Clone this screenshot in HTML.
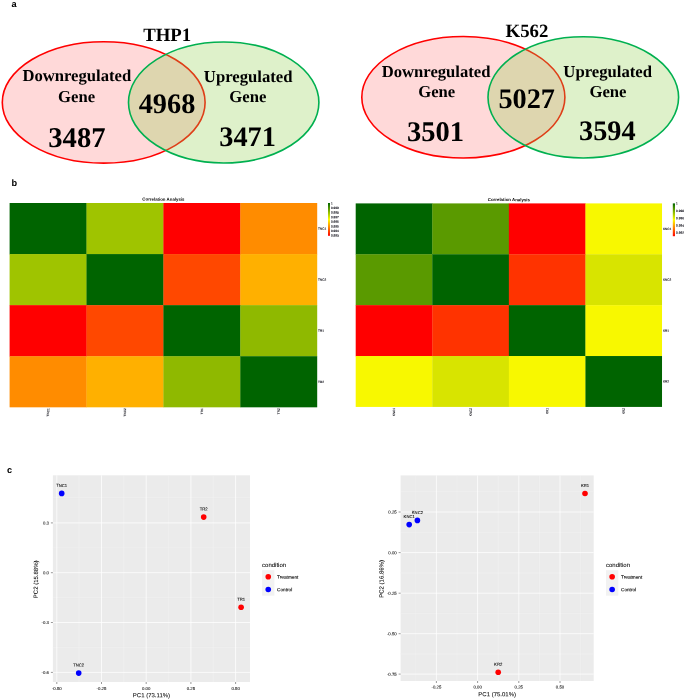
<!DOCTYPE html>
<html><head><meta charset="utf-8"><title>Figure</title>
<style>html,body{margin:0;padding:0;background:#fff;}body{width:685px;height:700px;overflow:hidden;}svg{display:block;will-change:transform;}
text{font-family:"Liberation Sans",sans-serif;fill:#000;text-rendering:geometricPrecision;}
.sf{font-family:"Liberation Serif",serif;font-weight:bold;}
.pl{font-weight:bold;font-size:9.2px;}
.t3{font-size:31px;fill:#222;}
.tk{font-size:4.3px;fill:#4d4d4d;}
.lb{font-size:4.2px;fill:#000;}
.ax{font-size:6px;fill:#000;}
.lg{font-size:4.5px;fill:#000;}
</style></head><body>
<svg width="685" height="700" viewBox="0 0 685 700">
<rect width="685" height="700" fill="#fff"/>
<text class="pl" x="11.5" y="6.5">a</text>
<text class="pl" x="11.6" y="185.6">b</text>
<text class="pl" x="7.0" y="472.6">c</text>
<ellipse cx="103.7" cy="102.4" rx="101.4" ry="60.7" fill="rgba(255,0,0,0.15)" stroke="#ff0000" stroke-width="1.6"/>
<ellipse cx="223.7" cy="102.47" rx="95.2" ry="60.5" fill="rgba(146,208,80,0.30)" stroke="#00b050" stroke-width="1.6"/>
<text class="sf" font-size="18.8" text-anchor="middle" x="167.2" y="41">THP1</text>
<text class="sf" font-size="16.65" text-anchor="middle" x="76.8" y="81.1">Downregulated</text>
<text class="sf" font-size="16.65" text-anchor="middle" x="76.6" y="101.9">Gene</text>
<text class="sf" font-size="28.6" text-anchor="middle" x="76.9" y="146.9">3487</text>
<text class="sf" font-size="28.3" text-anchor="middle" x="167" y="112.7">4968</text>
<text class="sf" font-size="16.7" text-anchor="middle" x="248.2" y="82">Upregulated</text>
<text class="sf" font-size="16.7" text-anchor="middle" x="247.9" y="101.7">Gene</text>
<text class="sf" font-size="28.3" text-anchor="middle" x="247.6" y="145.7">3471</text>
<ellipse cx="463.35" cy="97.27" rx="101.55" ry="60.7" fill="rgba(255,0,0,0.15)" stroke="#ff0000" stroke-width="1.6"/>
<ellipse cx="583.3" cy="97.37" rx="95.3" ry="60.6" fill="rgba(146,208,80,0.30)" stroke="#00b050" stroke-width="1.6"/>
<text class="sf" font-size="18.8" text-anchor="middle" x="527" y="36.5">K562</text>
<text class="sf" font-size="16.65" text-anchor="middle" x="436.1" y="76.8">Downregulated</text>
<text class="sf" font-size="16.65" text-anchor="middle" x="436.7" y="97.2">Gene</text>
<text class="sf" font-size="28.5" text-anchor="middle" x="435.6" y="141.3">3501</text>
<text class="sf" font-size="28.3" text-anchor="middle" x="526.7" y="108.3">5027</text>
<text class="sf" font-size="16.7" text-anchor="middle" x="607.7" y="76.9">Upregulated</text>
<text class="sf" font-size="16.7" text-anchor="middle" x="608" y="97.2">Gene</text>
<text class="sf" font-size="28.3" text-anchor="middle" x="607.3" y="140.1">3594</text>
<defs><linearGradient id="lg" x1="0" y1="0" x2="0" y2="1"><stop offset="0" stop-color="#006400"/><stop offset="0.5" stop-color="#ffff00"/><stop offset="1" stop-color="#ff0000"/></linearGradient></defs>
<rect x="9.6" y="203" width="77.2" height="51.38" fill="#006400"/>
<rect x="86.5" y="203" width="77.2" height="51.38" fill="#9fc400"/>
<rect x="163.4" y="203" width="77.2" height="51.38" fill="#ff0000"/>
<rect x="240.3" y="203" width="76.9" height="51.38" fill="#ff8c00"/>
<rect x="9.6" y="254.08" width="77.2" height="51.38" fill="#9fc400"/>
<rect x="86.5" y="254.08" width="77.2" height="51.38" fill="#006400"/>
<rect x="163.4" y="254.08" width="77.2" height="51.38" fill="#ff4800"/>
<rect x="240.3" y="254.08" width="76.9" height="51.38" fill="#ffb000"/>
<rect x="9.6" y="305.16" width="77.2" height="51.38" fill="#ff0000"/>
<rect x="86.5" y="305.16" width="77.2" height="51.38" fill="#ff4800"/>
<rect x="163.4" y="305.16" width="77.2" height="51.38" fill="#006400"/>
<rect x="240.3" y="305.16" width="76.9" height="51.38" fill="#8fb900"/>
<rect x="9.6" y="356.24" width="77.2" height="51.08" fill="#ff8c00"/>
<rect x="86.5" y="356.24" width="77.2" height="51.08" fill="#ffb000"/>
<rect x="163.4" y="356.24" width="77.2" height="51.08" fill="#8fb900"/>
<rect x="240.3" y="356.24" width="76.9" height="51.08" fill="#006400"/>
<text transform="translate(163.4 200.7) rotate(0.3) scale(0.1)" text-anchor="middle" font-size="43.5" font-weight="bold" fill="#111">Correlation Analysis</text>
<text transform="translate(318.1 229.64) rotate(0.3) scale(0.1)" font-size="31" fill="#223" stroke="#223" stroke-width="1.2">TNC1</text>
<text transform="translate(318.1 280.72) rotate(0.3) scale(0.1)" font-size="31" fill="#223" stroke="#223" stroke-width="1.2">TNC2</text>
<text transform="translate(318.1 331.8) rotate(0.3) scale(0.1)" font-size="31" fill="#223" stroke="#223" stroke-width="1.2">TR1</text>
<text transform="translate(318.1 382.88) rotate(0.3) scale(0.1)" font-size="31" fill="#223" stroke="#223" stroke-width="1.2">TR2</text>
<text transform="translate(49.15 408.32) rotate(-89.7) scale(0.1)" font-size="31" text-anchor="end" fill="#223" stroke="#223" stroke-width="1.2">TNC1</text>
<text transform="translate(126.05 408.32) rotate(-89.7) scale(0.1)" font-size="31" text-anchor="end" fill="#223" stroke="#223" stroke-width="1.2">TNC2</text>
<text transform="translate(202.95 408.32) rotate(-89.7) scale(0.1)" font-size="31" text-anchor="end" fill="#223" stroke="#223" stroke-width="1.2">TR1</text>
<text transform="translate(279.85 408.32) rotate(-89.7) scale(0.1)" font-size="31" text-anchor="end" fill="#223" stroke="#223" stroke-width="1.2">TR2</text>
<rect x="328" y="203" width="2" height="32.8" fill="url(#lg)"/>
<text transform="translate(331 204.4) rotate(0.3) scale(0.1)" font-size="31" fill="#223" stroke="#223" stroke-width="1.2">1</text>
<text transform="translate(331 209) rotate(0.3) scale(0.1)" font-size="31" fill="#223" stroke="#223" stroke-width="1.2">0.999</text>
<text transform="translate(331 213.6) rotate(0.3) scale(0.1)" font-size="31" fill="#223" stroke="#223" stroke-width="1.2">0.998</text>
<text transform="translate(331 218.2) rotate(0.3) scale(0.1)" font-size="31" fill="#223" stroke="#223" stroke-width="1.2">0.997</text>
<text transform="translate(331 222.8) rotate(0.3) scale(0.1)" font-size="31" fill="#223" stroke="#223" stroke-width="1.2">0.996</text>
<text transform="translate(331 227.4) rotate(0.3) scale(0.1)" font-size="31" fill="#223" stroke="#223" stroke-width="1.2">0.995</text>
<text transform="translate(331 232) rotate(0.3) scale(0.1)" font-size="31" fill="#223" stroke="#223" stroke-width="1.2">0.994</text>
<text transform="translate(331 236.6) rotate(0.3) scale(0.1)" font-size="31" fill="#223" stroke="#223" stroke-width="1.2">0.993</text>
<rect x="355.7" y="203.4" width="76.88" height="51.18" fill="#006400"/>
<rect x="432.28" y="203.4" width="76.88" height="51.18" fill="#5a9a00"/>
<rect x="508.86" y="203.4" width="76.88" height="51.18" fill="#ff0000"/>
<rect x="585.44" y="203.4" width="76.58" height="51.18" fill="#f8f800"/>
<rect x="355.7" y="254.28" width="76.88" height="51.18" fill="#5a9a00"/>
<rect x="432.28" y="254.28" width="76.88" height="51.18" fill="#006400"/>
<rect x="508.86" y="254.28" width="76.88" height="51.18" fill="#ff3300"/>
<rect x="585.44" y="254.28" width="76.58" height="51.18" fill="#d8e400"/>
<rect x="355.7" y="305.16" width="76.88" height="51.18" fill="#ff0000"/>
<rect x="432.28" y="305.16" width="76.88" height="51.18" fill="#ff3300"/>
<rect x="508.86" y="305.16" width="76.88" height="51.18" fill="#006400"/>
<rect x="585.44" y="305.16" width="76.58" height="51.18" fill="#f8f800"/>
<rect x="355.7" y="356.04" width="76.88" height="50.88" fill="#f8f800"/>
<rect x="432.28" y="356.04" width="76.88" height="50.88" fill="#d8e400"/>
<rect x="508.86" y="356.04" width="76.88" height="50.88" fill="#f8f800"/>
<rect x="585.44" y="356.04" width="76.58" height="50.88" fill="#006400"/>
<text transform="translate(508.86 201.1) rotate(0.3) scale(0.1)" text-anchor="middle" font-size="43.5" font-weight="bold" fill="#111">Correlation Analysis</text>
<text transform="translate(662.92 229.94) rotate(0.3) scale(0.1)" font-size="31" fill="#223" stroke="#223" stroke-width="1.2">KNC1</text>
<text transform="translate(662.92 280.82) rotate(0.3) scale(0.1)" font-size="31" fill="#223" stroke="#223" stroke-width="1.2">KNC2</text>
<text transform="translate(662.92 331.7) rotate(0.3) scale(0.1)" font-size="31" fill="#223" stroke="#223" stroke-width="1.2">KR1</text>
<text transform="translate(662.92 382.58) rotate(0.3) scale(0.1)" font-size="31" fill="#223" stroke="#223" stroke-width="1.2">KR2</text>
<text transform="translate(395.09 407.92) rotate(-89.7) scale(0.1)" font-size="31" text-anchor="end" fill="#223" stroke="#223" stroke-width="1.2">KNC1</text>
<text transform="translate(471.67 407.92) rotate(-89.7) scale(0.1)" font-size="31" text-anchor="end" fill="#223" stroke="#223" stroke-width="1.2">KNC2</text>
<text transform="translate(548.25 407.92) rotate(-89.7) scale(0.1)" font-size="31" text-anchor="end" fill="#223" stroke="#223" stroke-width="1.2">KR1</text>
<text transform="translate(624.83 407.92) rotate(-89.7) scale(0.1)" font-size="31" text-anchor="end" fill="#223" stroke="#223" stroke-width="1.2">KR2</text>
<rect x="672.8" y="203.4" width="2.2" height="32.8" fill="url(#lg)"/>
<text transform="translate(676.1 204.6) rotate(0.3) scale(0.1)" font-size="31" fill="#223" stroke="#223" stroke-width="1.2">1</text>
<text transform="translate(676.1 211.9) rotate(0.3) scale(0.1)" font-size="31" fill="#223" stroke="#223" stroke-width="1.2">0.998</text>
<text transform="translate(676.1 219.2) rotate(0.3) scale(0.1)" font-size="31" fill="#223" stroke="#223" stroke-width="1.2">0.996</text>
<text transform="translate(676.1 226.6) rotate(0.3) scale(0.1)" font-size="31" fill="#223" stroke="#223" stroke-width="1.2">0.994</text>
<text transform="translate(676.1 233.7) rotate(0.3) scale(0.1)" font-size="31" fill="#223" stroke="#223" stroke-width="1.2">0.992</text>
<rect x="52.9" y="475.3" width="197.1" height="206.7" fill="#ebebeb"/>
<line x1="79.15" y1="475.3" x2="79.15" y2="682" stroke="#f4f4f4" stroke-width="0.45"/>
<line x1="123.85" y1="475.3" x2="123.85" y2="682" stroke="#f4f4f4" stroke-width="0.45"/>
<line x1="168.55" y1="475.3" x2="168.55" y2="682" stroke="#f4f4f4" stroke-width="0.45"/>
<line x1="213.25" y1="475.3" x2="213.25" y2="682" stroke="#f4f4f4" stroke-width="0.45"/>
<line x1="52.9" y1="497.6" x2="250" y2="497.6" stroke="#f4f4f4" stroke-width="0.45"/>
<line x1="52.9" y1="547.8" x2="250" y2="547.8" stroke="#f4f4f4" stroke-width="0.45"/>
<line x1="52.9" y1="597.6" x2="250" y2="597.6" stroke="#f4f4f4" stroke-width="0.45"/>
<line x1="52.9" y1="647.45" x2="250" y2="647.45" stroke="#f4f4f4" stroke-width="0.45"/>
<line x1="56.8" y1="475.3" x2="56.8" y2="682" stroke="#fff" stroke-width="0.75"/>
<line x1="56.8" y1="682" x2="56.8" y2="684" stroke="#333" stroke-width="0.5"/>
<line x1="101.5" y1="475.3" x2="101.5" y2="682" stroke="#fff" stroke-width="0.75"/>
<line x1="101.5" y1="682" x2="101.5" y2="684" stroke="#333" stroke-width="0.5"/>
<line x1="146.2" y1="475.3" x2="146.2" y2="682" stroke="#fff" stroke-width="0.75"/>
<line x1="146.2" y1="682" x2="146.2" y2="684" stroke="#333" stroke-width="0.5"/>
<line x1="190.9" y1="475.3" x2="190.9" y2="682" stroke="#fff" stroke-width="0.75"/>
<line x1="190.9" y1="682" x2="190.9" y2="684" stroke="#333" stroke-width="0.5"/>
<line x1="235.6" y1="475.3" x2="235.6" y2="682" stroke="#fff" stroke-width="0.75"/>
<line x1="235.6" y1="682" x2="235.6" y2="684" stroke="#333" stroke-width="0.5"/>
<line x1="52.9" y1="522.9" x2="250" y2="522.9" stroke="#fff" stroke-width="0.75"/>
<line x1="50.9" y1="522.9" x2="52.9" y2="522.9" stroke="#333" stroke-width="0.5"/>
<line x1="52.9" y1="572.7" x2="250" y2="572.7" stroke="#fff" stroke-width="0.75"/>
<line x1="50.9" y1="572.7" x2="52.9" y2="572.7" stroke="#333" stroke-width="0.5"/>
<line x1="52.9" y1="622.5" x2="250" y2="622.5" stroke="#fff" stroke-width="0.75"/>
<line x1="50.9" y1="622.5" x2="52.9" y2="622.5" stroke="#333" stroke-width="0.5"/>
<line x1="52.9" y1="672.4" x2="250" y2="672.4" stroke="#fff" stroke-width="0.75"/>
<line x1="50.9" y1="672.4" x2="52.9" y2="672.4" stroke="#333" stroke-width="0.5"/>
<text transform="translate(56.8 690) rotate(0.3) scale(0.1)" font-size="43" text-anchor="middle" fill="#4d4d4d" stroke="#4d4d4d" stroke-width="0.9">-0.50</text>
<text transform="translate(101.5 690) rotate(0.3) scale(0.1)" font-size="43" text-anchor="middle" fill="#4d4d4d" stroke="#4d4d4d" stroke-width="0.9">-0.25</text>
<text transform="translate(146.2 690) rotate(0.3) scale(0.1)" font-size="43" text-anchor="middle" fill="#4d4d4d" stroke="#4d4d4d" stroke-width="0.9">0.00</text>
<text transform="translate(190.9 690) rotate(0.3) scale(0.1)" font-size="43" text-anchor="middle" fill="#4d4d4d" stroke="#4d4d4d" stroke-width="0.9">0.25</text>
<text transform="translate(235.6 690) rotate(0.3) scale(0.1)" font-size="43" text-anchor="middle" fill="#4d4d4d" stroke="#4d4d4d" stroke-width="0.9">0.50</text>
<text transform="translate(49 524.5) rotate(0.3) scale(0.1)" font-size="43" text-anchor="end" fill="#4d4d4d" stroke="#4d4d4d" stroke-width="0.9">0.3</text>
<text transform="translate(49 574.3) rotate(0.3) scale(0.1)" font-size="43" text-anchor="end" fill="#4d4d4d" stroke="#4d4d4d" stroke-width="0.9">0.0</text>
<text transform="translate(49 624.1) rotate(0.3) scale(0.1)" font-size="43" text-anchor="end" fill="#4d4d4d" stroke="#4d4d4d" stroke-width="0.9">-0.3</text>
<text transform="translate(49 674) rotate(0.3) scale(0.1)" font-size="43" text-anchor="end" fill="#4d4d4d" stroke="#4d4d4d" stroke-width="0.9">-0.6</text>
<circle cx="61.7" cy="493.4" r="2.8" fill="#0000ff"/>
<text transform="translate(61.7 486.9) rotate(0.3) scale(0.1)" font-size="42" text-anchor="middle" fill="#111" stroke="#111" stroke-width="0.8">TNC1</text>
<circle cx="78.7" cy="673.1" r="2.8" fill="#0000ff"/>
<text transform="translate(78.7 666.6) rotate(0.3) scale(0.1)" font-size="42" text-anchor="middle" fill="#111" stroke="#111" stroke-width="0.8">TNC2</text>
<circle cx="203.7" cy="517.1" r="2.8" fill="#ff0000"/>
<text transform="translate(203.7 510.6) rotate(0.3) scale(0.1)" font-size="42" text-anchor="middle" fill="#111" stroke="#111" stroke-width="0.8">TR2</text>
<circle cx="241.1" cy="607.3" r="2.8" fill="#ff0000"/>
<text transform="translate(241.1 600.8) rotate(0.3) scale(0.1)" font-size="42" text-anchor="middle" fill="#111" stroke="#111" stroke-width="0.8">TR1</text>
<text transform="translate(151.45 697.3) rotate(0.3) scale(0.1)" font-size="60" text-anchor="middle" fill="#111" stroke="#111" stroke-width="0.6">PC1 (73.11%)</text>
<text transform="translate(37.9 579.35) rotate(-89.7) scale(0.1)" font-size="60" text-anchor="middle" fill="#111" stroke="#111" stroke-width="0.6">PC2 (15.88%)</text>
<text transform="translate(262.1 567) rotate(0.3) scale(0.1)" font-size="60" fill="#111" stroke="#111" stroke-width="0.6">condition</text>
<rect x="262.1" y="570.2" width="12.3" height="25.5" fill="#f2f2f2"/>
<circle cx="268.25" cy="576.8" r="2.8" fill="#ff0000"/>
<circle cx="268.25" cy="589.5" r="2.8" fill="#0000ff"/>
<text transform="translate(277.1 578.6) rotate(0.3) scale(0.1)" font-size="47" fill="#000" stroke="#000" stroke-width="1.2">Treatment</text>
<text transform="translate(277.1 591.3) rotate(0.3) scale(0.1)" font-size="47" fill="#000" stroke="#000" stroke-width="1.2">Control</text>
<rect x="400.6" y="475.4" width="193.1" height="205.6" fill="#ebebeb"/>
<line x1="415.8" y1="475.4" x2="415.8" y2="681" stroke="#f4f4f4" stroke-width="0.45"/>
<line x1="457" y1="475.4" x2="457" y2="681" stroke="#f4f4f4" stroke-width="0.45"/>
<line x1="498.2" y1="475.4" x2="498.2" y2="681" stroke="#f4f4f4" stroke-width="0.45"/>
<line x1="539.4" y1="475.4" x2="539.4" y2="681" stroke="#f4f4f4" stroke-width="0.45"/>
<line x1="580.6" y1="475.4" x2="580.6" y2="681" stroke="#f4f4f4" stroke-width="0.45"/>
<line x1="400.6" y1="491.7" x2="593.7" y2="491.7" stroke="#f4f4f4" stroke-width="0.45"/>
<line x1="400.6" y1="532.3" x2="593.7" y2="532.3" stroke="#f4f4f4" stroke-width="0.45"/>
<line x1="400.6" y1="572.9" x2="593.7" y2="572.9" stroke="#f4f4f4" stroke-width="0.45"/>
<line x1="400.6" y1="613.45" x2="593.7" y2="613.45" stroke="#f4f4f4" stroke-width="0.45"/>
<line x1="400.6" y1="653.9" x2="593.7" y2="653.9" stroke="#f4f4f4" stroke-width="0.45"/>
<line x1="436.4" y1="475.4" x2="436.4" y2="681" stroke="#fff" stroke-width="0.75"/>
<line x1="436.4" y1="681" x2="436.4" y2="683" stroke="#333" stroke-width="0.5"/>
<line x1="477.6" y1="475.4" x2="477.6" y2="681" stroke="#fff" stroke-width="0.75"/>
<line x1="477.6" y1="681" x2="477.6" y2="683" stroke="#333" stroke-width="0.5"/>
<line x1="518.8" y1="475.4" x2="518.8" y2="681" stroke="#fff" stroke-width="0.75"/>
<line x1="518.8" y1="681" x2="518.8" y2="683" stroke="#333" stroke-width="0.5"/>
<line x1="560" y1="475.4" x2="560" y2="681" stroke="#fff" stroke-width="0.75"/>
<line x1="560" y1="681" x2="560" y2="683" stroke="#333" stroke-width="0.5"/>
<line x1="400.6" y1="512" x2="593.7" y2="512" stroke="#fff" stroke-width="0.75"/>
<line x1="398.6" y1="512" x2="400.6" y2="512" stroke="#333" stroke-width="0.5"/>
<line x1="400.6" y1="552.6" x2="593.7" y2="552.6" stroke="#fff" stroke-width="0.75"/>
<line x1="398.6" y1="552.6" x2="400.6" y2="552.6" stroke="#333" stroke-width="0.5"/>
<line x1="400.6" y1="593.2" x2="593.7" y2="593.2" stroke="#fff" stroke-width="0.75"/>
<line x1="398.6" y1="593.2" x2="400.6" y2="593.2" stroke="#333" stroke-width="0.5"/>
<line x1="400.6" y1="633.7" x2="593.7" y2="633.7" stroke="#fff" stroke-width="0.75"/>
<line x1="398.6" y1="633.7" x2="400.6" y2="633.7" stroke="#333" stroke-width="0.5"/>
<line x1="400.6" y1="674.1" x2="593.7" y2="674.1" stroke="#fff" stroke-width="0.75"/>
<line x1="398.6" y1="674.1" x2="400.6" y2="674.1" stroke="#333" stroke-width="0.5"/>
<text transform="translate(436.4 688.4) rotate(0.3) scale(0.1)" font-size="43" text-anchor="middle" fill="#4d4d4d" stroke="#4d4d4d" stroke-width="0.9">-0.25</text>
<text transform="translate(477.6 688.4) rotate(0.3) scale(0.1)" font-size="43" text-anchor="middle" fill="#4d4d4d" stroke="#4d4d4d" stroke-width="0.9">0.00</text>
<text transform="translate(518.8 688.4) rotate(0.3) scale(0.1)" font-size="43" text-anchor="middle" fill="#4d4d4d" stroke="#4d4d4d" stroke-width="0.9">0.25</text>
<text transform="translate(560 688.4) rotate(0.3) scale(0.1)" font-size="43" text-anchor="middle" fill="#4d4d4d" stroke="#4d4d4d" stroke-width="0.9">0.50</text>
<text transform="translate(396.7 513.6) rotate(0.3) scale(0.1)" font-size="43" text-anchor="end" fill="#4d4d4d" stroke="#4d4d4d" stroke-width="0.9">0.25</text>
<text transform="translate(396.7 554.2) rotate(0.3) scale(0.1)" font-size="43" text-anchor="end" fill="#4d4d4d" stroke="#4d4d4d" stroke-width="0.9">0.00</text>
<text transform="translate(396.7 594.8) rotate(0.3) scale(0.1)" font-size="43" text-anchor="end" fill="#4d4d4d" stroke="#4d4d4d" stroke-width="0.9">-0.25</text>
<text transform="translate(396.7 635.3) rotate(0.3) scale(0.1)" font-size="43" text-anchor="end" fill="#4d4d4d" stroke="#4d4d4d" stroke-width="0.9">-0.50</text>
<text transform="translate(396.7 675.7) rotate(0.3) scale(0.1)" font-size="43" text-anchor="end" fill="#4d4d4d" stroke="#4d4d4d" stroke-width="0.9">-0.75</text>
<circle cx="409.2" cy="524.6" r="2.8" fill="#0000ff"/>
<text transform="translate(409.2 518.1) rotate(0.3) scale(0.1)" font-size="42" text-anchor="middle" fill="#111" stroke="#111" stroke-width="0.8">KNC1</text>
<circle cx="417.4" cy="520.4" r="2.8" fill="#0000ff"/>
<text transform="translate(417.4 513.9) rotate(0.3) scale(0.1)" font-size="42" text-anchor="middle" fill="#111" stroke="#111" stroke-width="0.8">KNC2</text>
<circle cx="585" cy="493.5" r="2.8" fill="#ff0000"/>
<text transform="translate(585 487) rotate(0.3) scale(0.1)" font-size="42" text-anchor="middle" fill="#111" stroke="#111" stroke-width="0.8">KR1</text>
<circle cx="498.2" cy="672.3" r="2.8" fill="#ff0000"/>
<text transform="translate(498.2 665.8) rotate(0.3) scale(0.1)" font-size="42" text-anchor="middle" fill="#111" stroke="#111" stroke-width="0.8">KR2</text>
<text transform="translate(497.15 696.3) rotate(0.3) scale(0.1)" font-size="60" text-anchor="middle" fill="#111" stroke="#111" stroke-width="0.6">PC1 (75.01%)</text>
<text transform="translate(383.5 578.9) rotate(-89.7) scale(0.1)" font-size="60" text-anchor="middle" fill="#111" stroke="#111" stroke-width="0.6">PC2 (16.86%)</text>
<text transform="translate(606 567) rotate(0.3) scale(0.1)" font-size="60" fill="#111" stroke="#111" stroke-width="0.6">condition</text>
<rect x="606" y="570.2" width="12.3" height="25.5" fill="#f2f2f2"/>
<circle cx="612.15" cy="576.8" r="2.8" fill="#ff0000"/>
<circle cx="612.15" cy="589.5" r="2.8" fill="#0000ff"/>
<text transform="translate(621 578.6) rotate(0.3) scale(0.1)" font-size="47" fill="#000" stroke="#000" stroke-width="1.2">Treatment</text>
<text transform="translate(621 591.3) rotate(0.3) scale(0.1)" font-size="47" fill="#000" stroke="#000" stroke-width="1.2">Control</text>
</svg></body></html>
